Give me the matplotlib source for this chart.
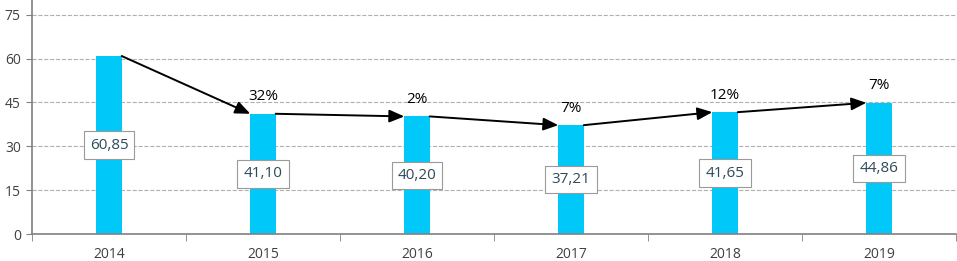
import numpy as np
import matplotlib.pyplot as plt

# data
years = ['2014', '2015', '2016', '2017', '2018', '2019']
values = [60.85, 41.10, 40.20, 37.21, 41.65, 44.86]
value_labels = ['60,85', '41,10', '40,20', '37,21', '41,65', '44,86']
change_labels = ['32%', '2%', '7%', '12%', '7%']

plt.rcParams['font.family'] = ['Open Sans', 'DejaVu Sans']

fig = plt.figure(figsize=(9.57, 2.61), dpi=100)
ax = fig.add_axes([0.0334, 0.1034, 0.9656, 0.8966])

x = np.arange(len(years))
w = 0.165
ax.bar(x, values, width=w, color='#00C8F8', zorder=2)

# value boxes in the middle of each bar
for xi, v, lab in zip(x, values, value_labels):
    ax.text(xi, v / 2, lab, ha='center', va='center', fontsize=11,
            color='#2E4A5A', zorder=4,
            bbox=dict(boxstyle='square,pad=0.4', fc='white', ec='#9A9A9A', lw=0.8))

# arrows from top of one bar to the next, with % change on top
for i in range(len(values) - 1):
    ax.annotate('', xy=(x[i + 1] - w / 2, values[i + 1]),
                xytext=(x[i] + w / 2, values[i]),
                arrowprops=dict(arrowstyle='-|>,head_length=0.9,head_width=0.38',
                                color='black', lw=1.4, shrinkA=0, shrinkB=0),
                zorder=3)
    ax.text(x[i + 1], values[i + 1] + 3.2, change_labels[i], ha='center',
            va='bottom', fontsize=11, color='black', zorder=4)

ax.set_xlim(-0.5, len(years) - 0.5)
ax.set_ylim(0, 80)
ax.set_yticks(np.arange(0, 76, 15))
ax.set_xticks(x)
ax.set_xticklabels(years)
ax.set_xticks(np.arange(-0.5, len(years), 1), minor=True)
ax.tick_params(axis='x', which='major', length=0, pad=9, labelsize=10, colors='#404040')
ax.tick_params(axis='x', which='minor', length=5, color='#808080', direction='out')
ax.tick_params(axis='y', length=4, color='#808080', labelsize=10, colors='#404040', pad=4)

ax.grid(axis='y', linestyle='--', color='#B0B0B0', lw=0.8, zorder=0)
for s in ['top', 'right']:
    ax.spines[s].set_visible(False)
ax.spines['left'].set_color('#808080')
ax.spines['bottom'].set_color('#808080')
ax.spines['left'].set_linewidth(1.2)
ax.spines['bottom'].set_linewidth(1.2)

fig.savefig('out.png', dpi=100)
